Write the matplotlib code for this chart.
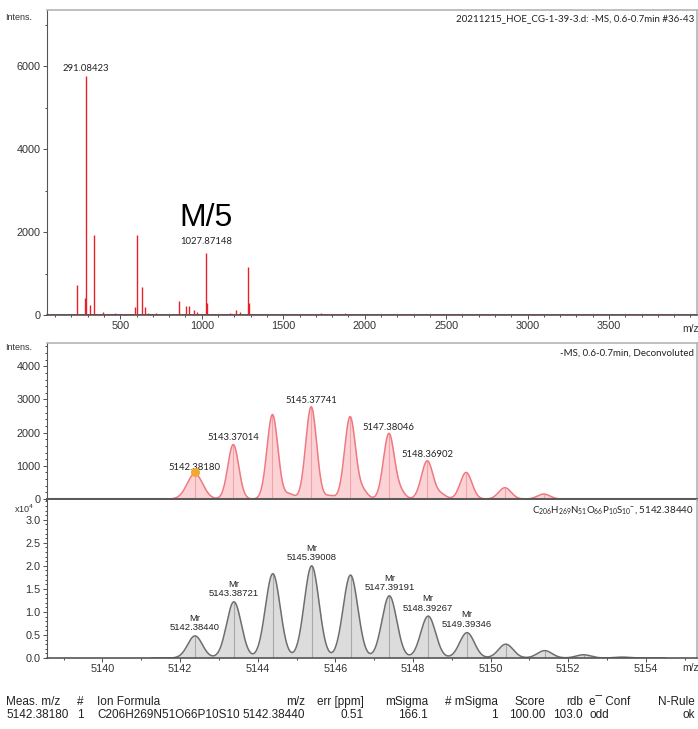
import numpy as np
import matplotlib.pyplot as plt
from matplotlib.ticker import MultipleLocator

# top panel: full MS spectrum (centroid sticks)
ms_mz = [237, 282, 291.08423, 312, 339, 395, 466, 588, 604, 633, 649, 670, 720,
         863, 904, 924, 951, 970, 1027.87148, 1033, 1172, 1213, 1233, 1284.6, 1290, 1734]
ms_int = [726, 400, 5760, 240, 1935, 70, 60, 200, 1935, 685, 200, 60, 50,
          340, 225, 225, 120, 80, 1490, 300, 60, 110, 70, 1145, 300, 50]
noise_mz = [1350, 1420, 1500, 1580, 1650, 1800, 1880, 1960, 2040, 2130, 2210, 2290,
            2380, 2460, 2540, 2620, 2700, 2790, 2870, 2950, 3030, 3120, 3200, 3290,
            3370, 3450, 3530, 3620, 3700, 3790, 3870, 3950]
noise_int = [30, 25, 35, 20, 30, 25, 40, 20, 30, 25, 35, 20, 30, 25, 30, 20,
             35, 25, 30, 20, 25, 35, 20, 30, 25, 30, 20, 35, 25, 30, 20, 25]
ms_labels = {291.08423: "291.08423", 1027.87148: "1027.87148"}

# middle panel: deconvoluted spectrum
dec_mz = [5142.38180, 5143.37014, 5144.38, 5145.37741, 5146.38, 5147.38046,
          5148.36902, 5149.37, 5150.37, 5151.37]
dec_int = [760, 1640, 2545, 2780, 2480, 1970, 1150, 800, 340, 150]
dec_sig = [0.20, 0.14, 0.14, 0.14, 0.14, 0.14, 0.15, 0.15, 0.16, 0.16]
dec_shoulder_mz = [5144.82, 5145.86, 5146.72, 5147.68, 5148.74]
dec_shoulder_int = [150, 100, 220, 200, 130]
dec_labels = ["5142.38180", "5143.37014", None, "5145.37741", None, "5147.38046",
              "5148.36902", None, None, None]

# bottom panel: simulated isotope pattern
sim_mz = [5142.38440, 5143.38721, 5144.389, 5145.39008, 5146.391, 5147.39191,
          5148.39267, 5149.39346, 5150.394, 5151.395, 5152.396, 5153.397]
sim_int = [4800, 12200, 18300, 20000, 18000, 13500, 9100, 5500, 3000, 1600, 700, 200]
sim_labels = ["5142.38440", "5143.38721", None, "5145.39008", None, "5147.39191",
              "5148.39267", "5149.39346", None, None, None, None]

# result table
tbl_head = ["Meas. m/z", "#", "Ion Formula", "m/z", "err [ppm]", "mSigma",
            "# mSigma", "Score", "rdb", "e\u00af Conf", "N-Rule"]
tbl_row = ["5142.38180", "1", "C206H269N51O66P10S10", "5142.38440", "0.51", "166.1",
           "1", "100.00", "103.0", "odd", "ok"]
tbl_x = [6, 80, 97, 305, 364, 428, 498, 545, 583, 589, 695]
tbl_ha = ["left", "center", "left", "right", "right", "right", "right", "right",
          "right", "left", "right"]

plt.rcParams['font.family'] = ['Liberation Sans', 'DejaVu Sans']
W, H = 698, 729
fig = plt.figure(figsize=(W / 100, H / 100), dpi=100)


def box(l, t, r, b):
    return [l / W, 1 - b / H, (r - l) / W, (b - t) / H]


def style(ax):
    for s in ['top', 'right']:
        ax.spines[s].set_color('#b4b4b4')
        ax.spines[s].set_linewidth(1.2)
    ax.spines['left'].set_color('#555555')
    ax.spines['left'].set_linewidth(0.8)
    ax.spines['bottom'].set_color('#555555')
    ax.spines['bottom'].set_linewidth(1.2)
    ax.tick_params(labelsize=7.8, colors='#333333', length=3, width=0.6, pad=1.5)
    ax.tick_params(which='minor', length=1.6, width=0.5)


def gauss_sum(x, centers, heights, sigmas):
    y = np.zeros_like(x)
    for c, h, s in zip(centers, heights, sigmas):
        y += h * np.exp(-0.5 * ((x - c) / s) ** 2)
    return y


ax1 = fig.add_axes(box(47, 10, 697, 315))
ax2 = fig.add_axes(box(47, 343, 697, 499))
ax3 = fig.add_axes(box(47, 500, 697, 658))
for ax in (ax1, ax2, ax3):
    style(ax)

# --- top panel
red = '#e8202a'
ax1.axhline(0, color=red, lw=1.3, zorder=2)
ax1.vlines(noise_mz, 0, noise_int, color=red, lw=0.7)
ax1.vlines(ms_mz, 0, ms_int, color=red, lw=1.0)
for mz, it in zip(ms_mz, ms_int):
    if mz in ms_labels:
        ax1.annotate(ms_labels[mz], (mz, it), xytext=(0, 2 if it > 3000 else 5),
                     textcoords='offset points', ha='center', va='bottom',
                     fontsize=6.8, family='Lato', color='#222222')
ax1.text(865, 1980, 'M/5', fontsize=23, color='black', va='bottom')
ax1.set_xlim(50, 4040)
ax1.set_ylim(0, 7350)
ax1.set_xticks([500, 1000, 1500, 2000, 2500, 3000, 3500])
ax1.xaxis.set_minor_locator(MultipleLocator(100))
ax1.set_yticks([0, 2000, 4000, 6000])
ax1.yaxis.set_minor_locator(MultipleLocator(1000))
ax1.text(0.995, 0.985, '20211215_HOE_CG-1-39-3.d: -MS, 0.6-0.7min #36-43',
         transform=ax1.transAxes, ha='right', va='top', fontsize=7, family='Lato',
         color='#222222')
ax1.text(0.99, -0.03, 'm/z', transform=ax1.transAxes, ha='center', va='top',
         fontsize=7.5, color='#333333')

# --- middle panel
xr = np.linspace(5141.8, 5151.75, 1500)
yr = gauss_sum(xr, dec_mz, dec_int, dec_sig) + gauss_sum(
    xr, dec_shoulder_mz, dec_shoulder_int, [0.12] * len(dec_shoulder_mz))
ax2.fill_between(xr, 0, yr, color='#fbd3d6', lw=0)
ax2.vlines(dec_mz, 0, dec_int, color='#f3a3a8', lw=0.8)
ax2.plot(xr, yr, color='#f07880', lw=1.1)
ax2.plot(dec_mz[0], dec_int[0] + 40, 'o', ms=5.5, color='#f0a830', zorder=5)
for mz, it, lab in zip(dec_mz, dec_int, dec_labels):
    if lab:
        ax2.annotate(lab, (mz, it), xytext=(0, 1.5), textcoords='offset points',
                     ha='center', va='bottom', fontsize=6.8, family='Lato',
                     color='#222222')
ax2.set_xlim(5138.57, 5155.32)
ax2.set_ylim(0, 4700)
ax2.set_yticks([0, 1000, 2000, 3000, 4000])
ax2.yaxis.set_minor_locator(MultipleLocator(200))
ax2.set_xticks([])
ax2.spines['bottom'].set_linewidth(2.2)
ax2.spines['bottom'].set_color('#5a5a5a')
ax2.text(0.995, 0.965, '-MS, 0.6-0.7min, Deconvoluted', transform=ax2.transAxes,
         ha='right', va='top', fontsize=7, family='Lato', color='#222222')

# --- bottom panel
xg = np.linspace(5141.27, 5154.5, 1500)
yg = gauss_sum(xg, sim_mz, sim_int, [0.19] * len(sim_mz)) / 1e4
ax3.fill_between(xg, 0, yg, color='#dcdcdc', lw=0)
ax3.vlines(sim_mz, 0, np.array(sim_int) / 1e4, color='#a8a8a8', lw=0.8)
ax3.plot(xg, yg, color='#6e6e6e', lw=1.1)
for mz, it, lab in zip(sim_mz, sim_int, sim_labels):
    if lab:
        ax3.annotate('Mr\n' + lab, (mz, it / 1e4), xytext=(0, 2.5),
                     textcoords='offset points', ha='center', va='bottom',
                     fontsize=6.8, color='#222222', linespacing=1.1,
                     multialignment='center')
ax3.set_xlim(5138.57, 5155.32)
ax3.set_ylim(0, 3.43)
ax3.set_xticks([5140, 5142, 5144, 5146, 5148, 5150, 5152, 5154])
ax3.xaxis.set_minor_locator(MultipleLocator(1))
ax3.set_yticks([0, 0.5, 1.0, 1.5, 2.0, 2.5, 3.0])
ax3.yaxis.set_major_formatter(plt.FormatStrFormatter('%.1f'))
ax3.yaxis.set_minor_locator(MultipleLocator(0.1))
ax3.spines['top'].set_visible(False)
ax3.text(0.995, 0.975,
         r'$\mathregular{C_{206}H_{269}N_{51}O_{66}P_{10}S_{10}{}^{-}}$, 5142.38440',
         transform=ax3.transAxes, ha='right', va='top', fontsize=7, family='Lato',
         color='#222222')
ax3.text(0.99, -0.03, 'm/z', transform=ax3.transAxes, ha='center', va='top',
         fontsize=7.5, color='#333333')

# axis captions
fig.text(5 / W, 1 - 17 / H, 'Intens.', fontsize=6.5, color='#333333', va='center')
fig.text(5 / W, 1 - 347 / H, 'Intens.', fontsize=6.5, color='#333333', va='center')
fig.text(14 / W, 1 - 509 / H, r'x10$^4$', fontsize=6.5, color='#333333', va='center')

# result table
for txt, x, ha in zip(tbl_head, tbl_x, tbl_ha):
    fig.text(x / W, 1 - 702 / H, txt, fontsize=8.5, ha=ha, va='center', color='#222222')
for txt, x, ha in zip(tbl_row, tbl_x, tbl_ha):
    fig.text(x / W, 1 - 715 / H, txt, fontsize=8.5, ha=ha, va='center', color='#222222')

fig.savefig('out.png', dpi=100)
